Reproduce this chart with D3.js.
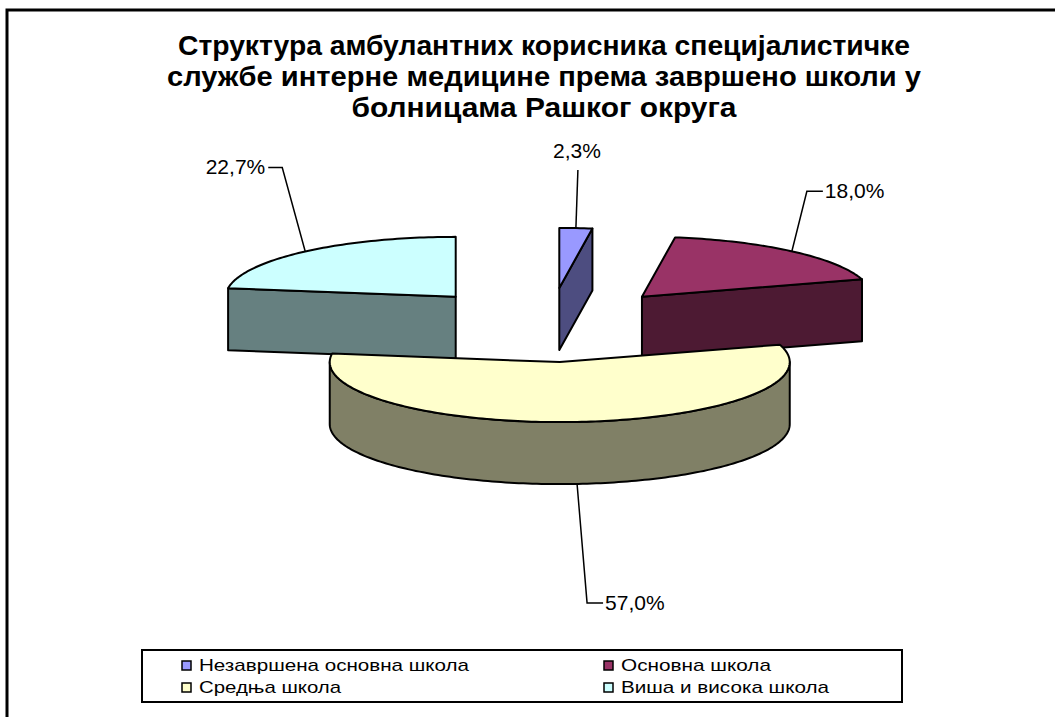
<!DOCTYPE html>
<html>
<head>
<meta charset="utf-8">
<script src="https://cdn.jsdelivr.net/npm/d3@7"></script>
<style>
  body { margin: 0; background: #fff; }
  svg { display: block; }
</style>
</head>
<body>
<div id="chart"></div>
<script>
// Exploded 3D pie, Excel style: school level of outpatient users

const categories = ['Незавршена основна школа', 'Основна школа', 'Средња школа', 'Виша и висока школа'];
const shares = [2.3, 18.0, 57.0, 22.7];
const valueLabels = ['2,3%', '18,0%', '57,0%', '22,7%'];
const topColors = ['#9999FF', '#993366', '#FFFFCC', '#CCFFFF'];
const sideColors = ['#4D4D80', '#4D1A33', '#808066', '#668080'];
const titleLines = [
	'Структура амбулантних корисника специјалистичке',
	'службе интерне медицине према завршено школи у',
	'болницама Рашког округа'
];

const width = 1055;
const height = 717;

const svg = d3.select('#chart').append('svg')
	.attr('width', width)
	.attr('height', height);

// outer frame (right and bottom edges fall outside the picture)
svg.append('path')
	.attr('d', `M7,${height + 5} L7,10 L${width + 5},10`)
	.attr('fill', 'none')
	.attr('stroke', '#000')
	.attr('stroke-width', 3);

// Title
const titleWidths = [732, 754, 385];
svg.append('g').selectAll('text')
	.data(titleLines)
	.enter()
	.append('text')
	.attr('x', 544)
	.attr('y', (d, i) => 55 + i * 31)
	.attr('text-anchor', 'middle')
	.attr('textLength', (d, i) => titleWidths[i])
	.attr('lengthAdjust', 'spacingAndGlyphs')
	.style('font-family', 'Arial, "Liberation Sans", sans-serif')
	.style('font-weight', '700')
	.style('font-size', '28px')
	.style('fill', '#000')
	.text(d => d);

// Pie geometry
const cx = 549, cy = 325;
const rx = 230, ry = 60, depth = 62;
const explode = 0.62;

const xs = d3.scaleLinear().domain([-1, 1]).range([-rx, rx]);
const ys = d3.scaleLinear().domain([-1, 1]).range([-ry, ry]);

const pie = d3.pie().sort(null).value(d => d);
const arcs = pie(shares).map((a, i) => {
	const mid = (a.startAngle + a.endAngle) / 2;
	return Object.assign(a, {
		i: i,
		mid: mid,
		c: [cx + xs(explode * Math.sin(mid)), cy + ys(-explode * Math.cos(mid))]
	});
});

function pt(c, a, r, z) {
	return [c[0] + xs(r * Math.sin(a)), c[1] + ys(-r * Math.cos(a)) + z];
}

function rimPoints(c, a0, a1, z) {
	const n = Math.max(2, Math.ceil(Math.abs(a1 - a0) / 0.02));
	return d3.range(n + 1).map(k => pt(c, a0 + (a1 - a0) * k / n, 1, z));
}

const line = d3.line();
const pieG = svg.append('g');

// back slices first
arcs.slice().sort((a, b) => a.c[1] - b.c[1]).forEach(s => {
	const g = pieG.append('g');
	const faces = [];

	// radial cut faces that face the viewer
	if (Math.sin(s.startAngle) < -1e-6) faces.push([s.c, pt(s.c, s.startAngle, 1, 0), pt(s.c, s.startAngle, 1, depth), [s.c[0], s.c[1] + depth]]);
	if (Math.sin(s.endAngle) > 1e-6) faces.push([s.c, pt(s.c, s.endAngle, 1, 0), pt(s.c, s.endAngle, 1, depth), [s.c[0], s.c[1] + depth]]);

	// front part of the outer wall
	const w0 = Math.max(s.startAngle, Math.PI / 2);
	const w1 = Math.min(s.endAngle, Math.PI * 1.5);
	if (w1 > w0) {
		faces.push(rimPoints(s.c, w0, w1, 0).concat(rimPoints(s.c, w1, w0, depth)));
	}

	faces.forEach(f => {
		g.append('path')
			.attr('d', line(f) + 'Z')
			.attr('fill', sideColors[s.i])
			.attr('stroke', '#000')
			.attr('stroke-width', 2)
			.attr('stroke-linejoin', 'round');
	});

	g.append('path')
		.attr('d', line([s.c].concat(rimPoints(s.c, s.startAngle, s.endAngle, 0))) + 'Z')
		.attr('fill', topColors[s.i])
		.attr('stroke', '#000')
		.attr('stroke-width', 2)
		.attr('stroke-linejoin', 'round');
});

// Data labels with leader lines: [elbow dx, elbow dy, tail]
const labelLayout = [[2, -58, 0], [15, -60, 16], [10, 119, 16], [-23, -84, -14]];
const labelG = svg.append('g');
arcs.forEach(s => {
	const front = Math.cos(s.mid) < 0;
	const start = pt(s.c, s.mid, 1, front ? depth : 0);
	const [dx, dy, tail] = labelLayout[s.i];
	const elbow = [start[0] + dx, start[1] + dy];
	const end = [elbow[0] + tail, elbow[1]];
	labelG.append('path')
		.attr('d', line([start, elbow, end]))
		.attr('fill', 'none')
		.attr('stroke', '#000')
		.attr('stroke-width', 1.5);

	const t = labelG.append('text')
		.style('font-family', 'Arial, "Liberation Sans", sans-serif')
		.style('font-size', '21px')
		.style('fill', '#000')
		.text(valueLabels[s.i]);
	if (tail === 0) {
		t.attr('x', elbow[0] - 1).attr('y', elbow[1] - 12).attr('text-anchor', 'middle');
	} else if (tail > 0) {
		t.attr('x', end[0] + 2).attr('y', end[1] + 7).attr('text-anchor', 'start');
	} else {
		t.attr('x', end[0] - 3).attr('y', end[1] + 7).attr('text-anchor', 'end');
	}
});

// Legend
const legend = svg.append('g');
legend.append('rect')
	.attr('x', 142)
	.attr('y', 650)
	.attr('width', 760)
	.attr('height', 52)
	.attr('fill', '#fff')
	.attr('stroke', '#000')
	.attr('stroke-width', 2);

const legendWidths = [270, 150, 142, 208];
const li = legend.selectAll('.legend-item')
	.data(categories)
	.enter()
	.append('g')
	.attr('class', 'legend-item')
	.attr('transform', (d, i) => `translate(${i % 2 === 0 ? 182 : 604}, ${i < 2 ? 661 : 683})`);

li.append('rect')
	.attr('width', 9)
	.attr('height', 9)
	.attr('fill', (d, i) => topColors[i])
	.attr('stroke', '#000')
	.attr('stroke-width', 1.5);

li.append('text')
	.attr('x', 17)
	.attr('y', 10)
	.attr('textLength', (d, i) => legendWidths[i])
	.attr('lengthAdjust', 'spacingAndGlyphs')
	.style('font-family', 'Arial, "Liberation Sans", sans-serif')
	.style('font-size', '17px')
	.style('fill', '#000')
	.text(d => d);
</script>
</body>
</html>
